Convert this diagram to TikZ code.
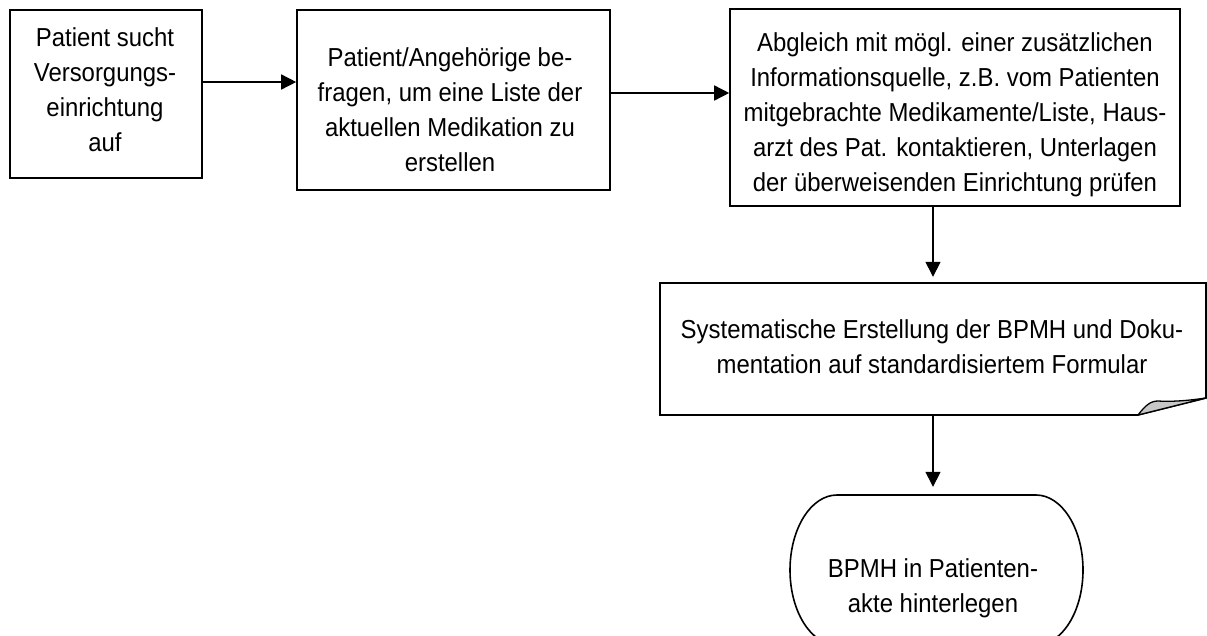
\documentclass[tikz,border=0pt]{standalone}
\usepackage{fontspec}
\setmainfont{Liberation Sans}[FakeStretch=0.92]
\usetikzlibrary{arrows.meta}
\begin{document}
\begin{tikzpicture}[x=1pt,y=1pt,
  boxframe/.style={draw=black, line width=1.6pt, inner sep=0pt},
  anchorbox/.style={inner sep=0pt},
  txt/.style={font=\fontsize{26}{35}\selectfont, align=center, inner sep=0pt},
  arr/.style={line width=1.5pt, -{Triangle[length=15pt,width=15pt]}},
  outline/.style={draw=black, line width=1.6pt},
  flap/.style={fill=black!22, draw=black, line width=1.3pt, line join=round}]
\useasboundingbox (0,0) rectangle (1207,-635);
\clip (0,0) rectangle (1207,-635);
% box 1
\node[boxframe, minimum width=192pt, minimum height=168pt] (b1) at (106,-94) {};
\node[txt] (t1) at (105,-90) {Patient sucht\\Versorgungs-\\einrichtung\\auf};
% box 2
\node[boxframe, minimum width=313pt, minimum height=180pt] (b2) at (453.5,-100) {};
\node[txt] (t2) at (450,-110) {Patient/Angehörige be-\\fragen, um eine Liste der\\aktuellen Medikation zu\\erstellen};
% box 3
\node[boxframe, minimum width=450pt, minimum height=197pt] (b3) at (955,-107.5) {};
\node[txt] (t3) at (955,-115) {Abgleich mit mögl. einer zusätzlichen\\Informationsquelle, z.B. vom Patienten\\mitgebrachte Medikamente/Liste, Haus-\\arzt des Pat. kontaktieren, Unterlagen\\der überweisenden Einrichtung prüfen};
% box 4 (document shape)
\node[anchorbox, minimum width=546pt, minimum height=132pt] (b4) at (933,-349) {};
\draw[outline] (660,-283) -- (1206,-283) -- (1206,-398) -- (1138,-415) -- (660,-415) -- cycle;
\filldraw[flap] (1138,-415) .. controls (1145,-406) and (1150,-401) .. (1158,-401)
   .. controls (1175,-402) and (1192,-400) .. (1206,-398) -- cycle;
\node[txt] (t4) at (932,-346.5) {Systematische Erstellung der BPMH und Doku-\\mentation auf standardisiertem Formular};
% terminal
\node[anchorbox, minimum width=293pt, minimum height=150pt] (term) at (936.5,-570) {};
\draw[outline] (837,-495) -- (1036,-495)
   arc[start angle=90, end angle=-90, x radius=47, y radius=75]
   -- (837,-645)
   arc[start angle=270, end angle=90, x radius=47, y radius=75] -- cycle;
\node[txt] (t5) at (933,-588) {BPMH in Patienten-\\akte hinterlegen};
% connectors
\coordinate (a1) at (0,-82);
\coordinate (a2) at (0,-93);
\coordinate (a3) at (933,0);
\draw[arr] (b1.east |- a1) -- (b2.west |- a1);
\draw[arr] (b2.east |- a2) -- (b3.west |- a2);
\draw[arr, shorten >=6pt] (b3.south -| a3) -- (b4.north -| a3);
\draw[arr, shorten >=8pt] (b4.south -| a3) -- (term.north -| a3);
\end{tikzpicture}
\end{document}
